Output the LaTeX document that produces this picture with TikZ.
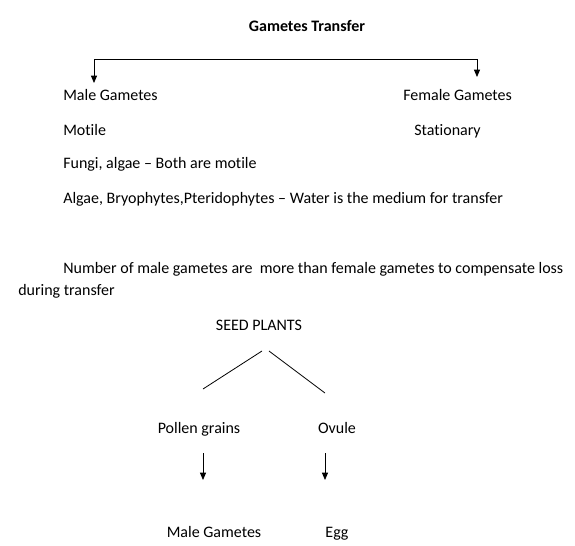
\documentclass[tikz,border=0pt]{standalone}
\usepackage{fontspec}
\setmainfont{Carlito}[Ligatures={NoCommon}]
\usetikzlibrary{arrows.meta}

\begin{document}
\begin{tikzpicture}[x=0.75pt,y=-0.75pt]
\tikzset{txt/.style={inner sep=0pt,text height=1.55ex,text depth=.3ex,yshift=-1.5pt,font=\fontsize{12}{14}\selectfont},
  ln/.style={line width=0.6pt},
  arr/.style={ln,-{Triangle[length=5.5pt,width=4.5pt]}}}
\path[use as bounding box] (0,0) rectangle (575,546);
% heading and bracket
\node[txt,font=\fontsize{12}{14}\selectfont\bfseries] (title) at (307,26) {Gametes Transfer};
\coordinate (lbr) at (94,59);
\coordinate (rbr) at (477,59);
\coordinate (ltip) at (94,83);
\coordinate (rtip) at (477,77);
\draw[ln] (lbr) -- (rbr);
\draw[arr] (lbr) -- (ltip);
\draw[arr] (rbr) -- (rtip);
% two columns
\node[txt,anchor=west] (male) at (63,95) {Male Gametes};
\node[txt,anchor=west] (female) at (403,95) {Female Gametes};
\node[txt,anchor=west] (motile) at (63,130) {Motile};
\node[txt,anchor=west] (stat) at (414,130) {Stationary};
\node[txt,anchor=west] (fungi) at (63,163) {Fungi, algae -- Both are motile};
\node[txt,anchor=west] (algae) at (63,198) {Algae, Bryophytes,Pteridophytes -- Water is the medium for transfer};
\node[txt,anchor=west] (num) at (63,268) {Number of male gametes are\ \ more than female gametes to compensate loss};
\node[txt,anchor=west] (during) at (18,290) {during transfer};
% seed plants
\node[txt] (seed) at (259,325) {SEED PLANTS};
\coordinate (sl) at (262,351);
\coordinate (sr) at (269,351);
\coordinate (pl) at (203,389);
\coordinate (or) at (325,393);
\draw[ln] (sl) -- (pl);
\draw[ln] (sr) -- (or);
\node[txt] (pollen) at (199,428) {Pollen grains};
\node[txt] (ovule) at (337,428) {Ovule};
\coordinate (pa) at (203,453);
\coordinate (pb) at (203,480);
\coordinate (oa) at (325,453);
\coordinate (ob) at (325,480);
\draw[arr] (pa) -- (pb);
\draw[arr] (oa) -- (ob);
\node[txt] (mgam) at (214,532) {Male Gametes};
\node[txt] (egg) at (337,532) {Egg};
\end{tikzpicture}
\end{document}
